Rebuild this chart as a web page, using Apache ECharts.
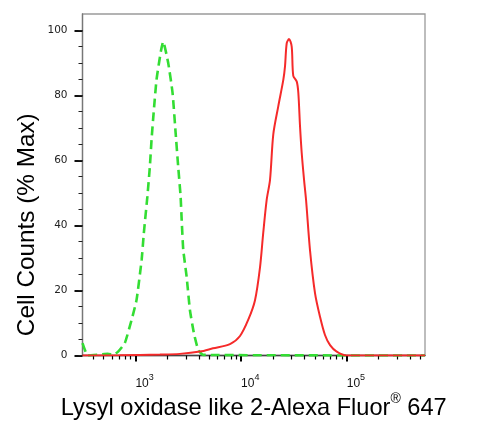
<!DOCTYPE html>
<html><head><meta charset="utf-8">
<script src="https://cdn.jsdelivr.net/npm/echarts@6/dist/echarts.min.js"></script>
<style>html,body{margin:0;padding:0;background:#fff}#c{width:492px;height:422px}</style>
</head><body><div id="c"></div>
<script>
// Red: Lysyl oxidase like 2 stained cells (fluorescence intensity, % of max)
const redIntensity = [316, 355, 713, 1706, 2636, 4083, 5420, 7852, 9772, 11700, 13550, 15100, 16200, 17460, 18790, 20180, 22490, 25120, 26060, 27040, 28440, 30130, 31190, 33650, 34830, 36140, 37500, 39450, 41210, 44870, 50120, 55850, 62230, 69500, 80350, 100000, 550000];
const redPercent   = [0, 0, 0.1, 0.3, 0.5, 1.2, 2.2, 3.5, 6.0, 11, 17, 27, 37.6, 47.8, 54, 68, 76.6, 84.8, 89, 96, 97.3, 95, 86, 84.2, 80.7, 70.4, 62.2, 54, 47.8, 32.5, 19.1, 11.9, 6.3, 3.2, 1.2, 0, 0];
// Green dashed: isotype / unstained control
const greenIntensity = [316, 355, 461, 550, 617, 687, 794, 920, 1026, 1146, 1202, 1300, 1371, 1422, 1496, 1585, 1742, 1832, 2046, 2249, 2404, 2541, 2679, 2742, 2838, 3055, 3281, 3581, 3936, 4385, 550000];
const greenPercent   = [3.8, 0, 0.3, 0.5, 0.2, 1.2, 3.8, 10.9, 17.1, 29.4, 37.6, 49, 58.1, 66.3, 75.5, 84.8, 93.5, 96.5, 89.9, 80.7, 68.4, 58.1, 48.9, 41.7, 32.5, 24.2, 14, 6.8, 1.7, 0.2, 0];
const yTickLabels = [0, 20, 40, 60, 80, 100];
const xDecadeExponents = [3, 4, 5];
const xMinorMantissas = [2, 3, 4, 5, 6, 7, 8, 9];
const xAxisRange = [316, 550000];
const yAxisRange = [0, 105];
const xTitle = 'Lysyl oxidase like 2-Alexa Fluor';
const xTitleSuffix = '647';
const yTitle = 'Cell Counts (% Max)';

const xMin = Math.log10(xAxisRange[0]);
const xMax = Math.log10(xAxisRange[1]);
const toPairs = (xs, ys) => xs.map((v, i) => [Math.log10(v), ys[i]]);
const minorX = [];
for (let e = 2; e <= 5; e++) {
  xMinorMantissas.forEach(m => {
    const v = Math.log10(m) + e;
    if (v >= xMin && v <= xMax) minorX.push(v);
  });
}
const minorY = [];
for (let v = yAxisRange[0]; v <= 100; v += 5) minorY.push(v);

const chart = echarts.init(document.getElementById('c'), null, {renderer: 'canvas'});
chart.setOption({
  animation: false,
  backgroundColor: '#fff',
  grid: {left: 82.5, right: 67, top: 14, bottom: 66.5, outerBoundsMode: 'none', containLabel: false, show: true, borderColor: '#9a9a9a', borderWidth: 1.3, backgroundColor: 'transparent'},
  xAxis: [{
    type: 'value', min: xMin, max: xMax, position: 'bottom',
    name: '{a|' + xTitle + '}{r|®}{a| ' + xTitleSuffix + '}',
    nameLocation: 'middle', nameGap: 37, nameMoveOverlap: false,
    nameTextStyle: {
      rich: {
        a: {fontSize: 23.6, fontFamily: 'Liberation Sans, Arial', color: '#000', lineHeight: 28, verticalAlign: 'bottom'},
        r: {fontSize: 14, fontFamily: 'Liberation Sans, Arial', color: '#000', lineHeight: 28, verticalAlign: 'top'}
      }
    },
    axisLine: {show: true, lineStyle: {color: '#444', width: 1.3}},
    splitLine: {show: false},
    axisTick: {show: true, customValues: xDecadeExponents, length: 6, lineStyle: {color: '#000', width: 2}},
    axisLabel: {
      customValues: xDecadeExponents, align: 'left', margin: 18,
      formatter: v => '{b|10}{s|' + Math.round(v) + '}',
      rich: {
        b: {fontSize: 12, fontFamily: 'Liberation Sans Narrow, Liberation Sans, Arial', color: '#111', lineHeight: 16, verticalAlign: 'bottom'},
        s: {fontSize: 9, fontFamily: 'Liberation Sans Narrow, Liberation Sans, Arial', color: '#111', lineHeight: 16, verticalAlign: 'top'}
      }
    }
  }, {
    type: 'value', min: xMin, max: xMax, position: 'bottom',
    axisLine: {show: false}, splitLine: {show: false}, axisLabel: {show: false},
    axisTick: {show: true, customValues: minorX, length: 4, lineStyle: {color: '#000', width: 1.2}}
  }],
  yAxis: [{
    type: 'value', min: yAxisRange[0], max: yAxisRange[1], position: 'left',
    name: yTitle, nameLocation: 'middle', nameGap: 43, nameRotate: 90, nameMoveOverlap: false,
    nameTextStyle: {fontSize: 24.3, fontFamily: 'Liberation Sans, Arial', color: '#000', padding: [0, 80, 0, 0]},
    axisLine: {show: true, lineStyle: {color: '#777', width: 1.3}},
    splitLine: {show: false},
    axisTick: {show: true, customValues: yTickLabels, length: 8, lineStyle: {color: '#111', width: 2}},
    axisLabel: {customValues: yTickLabels, margin: 15, fontSize: 10.5, fontFamily: 'DejaVu Sans', color: '#222'}
  }, {
    type: 'value', min: yAxisRange[0], max: yAxisRange[1], position: 'left',
    axisLine: {show: false}, splitLine: {show: false}, axisLabel: {show: false},
    axisTick: {show: true, customValues: minorY, length: 4, lineStyle: {color: '#222', width: 1}}
  }],
  series: [{
    name: 'Control', type: 'line', xAxisIndex: 0, yAxisIndex: 0,
    data: toPairs(greenIntensity, greenPercent),
    showSymbol: false, smooth: 0.15,
    lineStyle: {color: '#33dd33', width: 2.6, type: [9, 5]}
  }, {
    name: 'LOXL2', type: 'line', xAxisIndex: 0, yAxisIndex: 0,
    data: toPairs(redIntensity, redPercent),
    showSymbol: false, smooth: 0.3,
    lineStyle: {color: '#f52a2a', width: 2}
  }]
});
</script>
</body></html>
